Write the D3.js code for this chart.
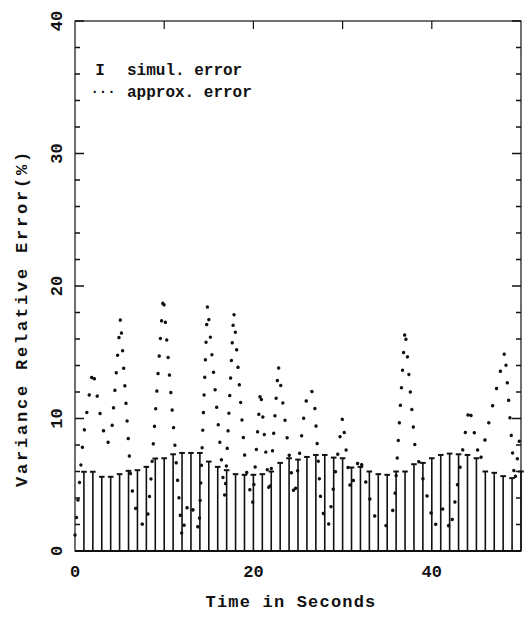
<!DOCTYPE html>
<html>
<head>
<meta charset="utf-8">
<script src="https://cdn.jsdelivr.net/npm/d3@7"></script>
<style>
  body { margin: 0; background: #fff; }
  text { font-family: "Liberation Mono", monospace; font-weight: bold; fill: #111; }
</style>
</head>
<body>
<svg></svg>
<script>
// simulated error, one error bar per second
var seconds = [1,2,3,4,5,6,7,8,9,10,11,12,13,14,15,16,17,18,19,20,
  21,22,23,24,25,26,27,28,29,30,31,32,33,34,35,36,37,38,39,40,
  41,42,43,44,45,46,47,48,49,50];
var simulError = [5.98,5.98,5.6,5.6,5.8,6.05,6.1,6.35,6.98,7.0,7.3,7.4,7.4,7.4,6.75,6.35,6.1,5.8,5.75,5.75,
  5.8,6.0,6.65,7.0,6.9,7.1,7.25,7.25,7.05,7.0,6.3,6.35,6.0,5.8,5.75,6.0,6.0,6.55,6.65,7.0,
  7.25,7.35,7.3,7.25,7.0,6.0,5.9,5.65,5.5,6.0];

// approximated error
var approxTime = [0,0.9,2.0,3.0,3.6,4.1,5.1,6.3,7.0,7.8,8.1,8.5,9.9,12.0,12.7,13.3,13.9,14.85,16.8,17.8,
  19.1,19.9,20.8,21.8,22.8,24.6,25.8,26.3,26.8,27.6,28.4,30.0,30.9,31.9,33.2,33.9,35.0,35.8,37.0,38.1,
  40.3,41.2,42.1,44.2,45.4,48.2,49.3,50];
var approxError = [1.2,8.4,13.7,9.6,8.0,8.9,17.6,5.0,2.5,1.8,2.2,5.3,19.3,1.0,3.8,3.0,1.5,18.6,4.0,18.1,
  6.5,3.5,12.2,4.2,14.0,4.0,11.0,12.3,11.8,3.3,1.8,10.1,4.5,7.2,3.5,2.0,1.9,3.4,16.8,8.0,
  1.8,3.2,1.5,10.9,6.7,15.1,5.2,9.5];

var xTicks = [0, 20, 40];
var yTicks = [0, 10, 20, 30, 40];

var w = 527, h = 621;
var pL = 75, pR = 521, pT = 21, pB = 551;

var svg = d3.select('svg')
    .attr('width', w)
    .attr('height', h);

var x = d3.scaleLinear().domain([0, 50]).range([pL, pR]);
var y = d3.scaleLinear().domain([0, 40]).range([pB, pT]);

// frame
svg.append('rect')
    .attr('x', pL).attr('y', pT)
    .attr('width', pR - pL).attr('height', pB - pT)
    .attr('fill', 'none').attr('stroke', '#111').attr('stroke-width', 1.2);

// inside ticks on left / right, minor every 2
var yMinor = d3.range(0, 41, 2);
svg.selectAll('line.yl')
    .data(yMinor)
    .enter()
    .append('line')
    .attr('x1', pL)
    .attr('x2', function(d){ return pL + (d % 10 == 0 ? 9 : 5) })
    .attr('y1', function(d){ return y(d) })
    .attr('y2', function(d){ return y(d) })
    .attr('stroke', '#111').attr('stroke-width', 1.5);
svg.selectAll('line.yr')
    .data(yMinor)
    .enter()
    .append('line')
    .attr('x1', pR)
    .attr('x2', function(d){ return pR - (d % 10 == 0 ? 9 : 5) })
    .attr('y1', function(d){ return y(d) })
    .attr('y2', function(d){ return y(d) })
    .attr('stroke', '#111').attr('stroke-width', 1.5);
svg.selectAll('line.xt')
    .data([10, 20, 30, 40])
    .enter()
    .append('line')
    .attr('x1', function(d){ return x(d) })
    .attr('x2', function(d){ return x(d) })
    .attr('y1', pT)
    .attr('y2', pT + 8)
    .attr('stroke', '#111').attr('stroke-width', 1.2);

// baseline
svg.append('line')
    .attr('x1', pL).attr('x2', pR)
    .attr('y1', pB).attr('y2', pB)
    .attr('stroke', '#111').attr('stroke-width', 2.2);

// error bars
var bars = svg.selectAll('g.bar')
    .data(seconds)
    .enter()
    .append('g');
bars.append('line')
    .attr('x1', function(d){ return x(d) })
    .attr('x2', function(d){ return x(d) })
    .attr('y1', y(0))
    .attr('y2', function(d,i){ return y(simulError[i]) })
    .attr('stroke', '#111').attr('stroke-width', 1.6);
bars.append('line')
    .attr('x1', function(d){ return x(d) - 2.8 })
    .attr('x2', function(d){ return x(d) + 2.8 })
    .attr('y1', function(d,i){ return y(simulError[i]) })
    .attr('y2', function(d,i){ return y(simulError[i]) })
    .attr('stroke', '#111').attr('stroke-width', 2);

// dotted approx error curve
var pts = approxTime.map(function(t,i){ return [t, approxError[i]] });
var line = d3.line()
    .x(function(d){ return x(d[0]) })
    .y(function(d){ return y(d[1]) });
svg.append('path')
    .attr('d', line(pts))
    .attr('fill', 'none')
    .attr('stroke', '#111')
    .attr('stroke-width', 3.4)
    .attr('stroke-linecap', 'round')
    .attr('stroke-dasharray', '0.1 17.5');

// tick labels
svg.selectAll('text.xl')
    .data(xTicks)
    .enter()
    .append('text')
    .attr('x', function(d){ return x(d) })
    .attr('y', 572)
    .attr('text-anchor', 'middle')
    .attr('dominant-baseline', 'central')
    .attr('font-size', 17)
    .text(function(d){ return d });
svg.selectAll('text.yl')
    .data(yTicks)
    .enter()
    .append('text')
    .attr('transform', function(d){ return 'translate(57,' + y(d) + ') rotate(-90)' })
    .attr('text-anchor', 'middle')
    .attr('dominant-baseline', 'central')
    .attr('font-size', 17)
    .text(function(d){ return d });

// axis titles
svg.append('text')
    .attr('x', 291).attr('y', 602)
    .attr('text-anchor', 'middle')
    .attr('dominant-baseline', 'central')
    .attr('font-size', 17)
    .attr('letter-spacing', 1.2)
    .text('Time in Seconds');
svg.append('text')
    .attr('transform', 'translate(22,318) rotate(-90)')
    .attr('text-anchor', 'middle')
    .attr('dominant-baseline', 'central')
    .attr('font-size', 17)
    .attr('letter-spacing', 2.8)
    .text('Variance Relative Error(%)');

// legend
svg.append('text')
    .attr('x', 100).attr('y', 75)
    .attr('text-anchor', 'middle')
    .attr('font-size', 16)
    .attr('font-weight', 'normal')
    .text('I');
svg.append('text')
    .attr('x', 127).attr('y', 75)
    .attr('font-size', 16)
    .text('simul. error');
svg.append('text')
    .attr('x', 103).attr('y', 96)
    .attr('text-anchor', 'middle')
    .attr('font-size', 14)
    .text('\u00b7\u00b7\u00b7');
svg.append('text')
    .attr('x', 127).attr('y', 97)
    .attr('font-size', 16)
    .text('approx. error');
</script>
</body>
</html>
